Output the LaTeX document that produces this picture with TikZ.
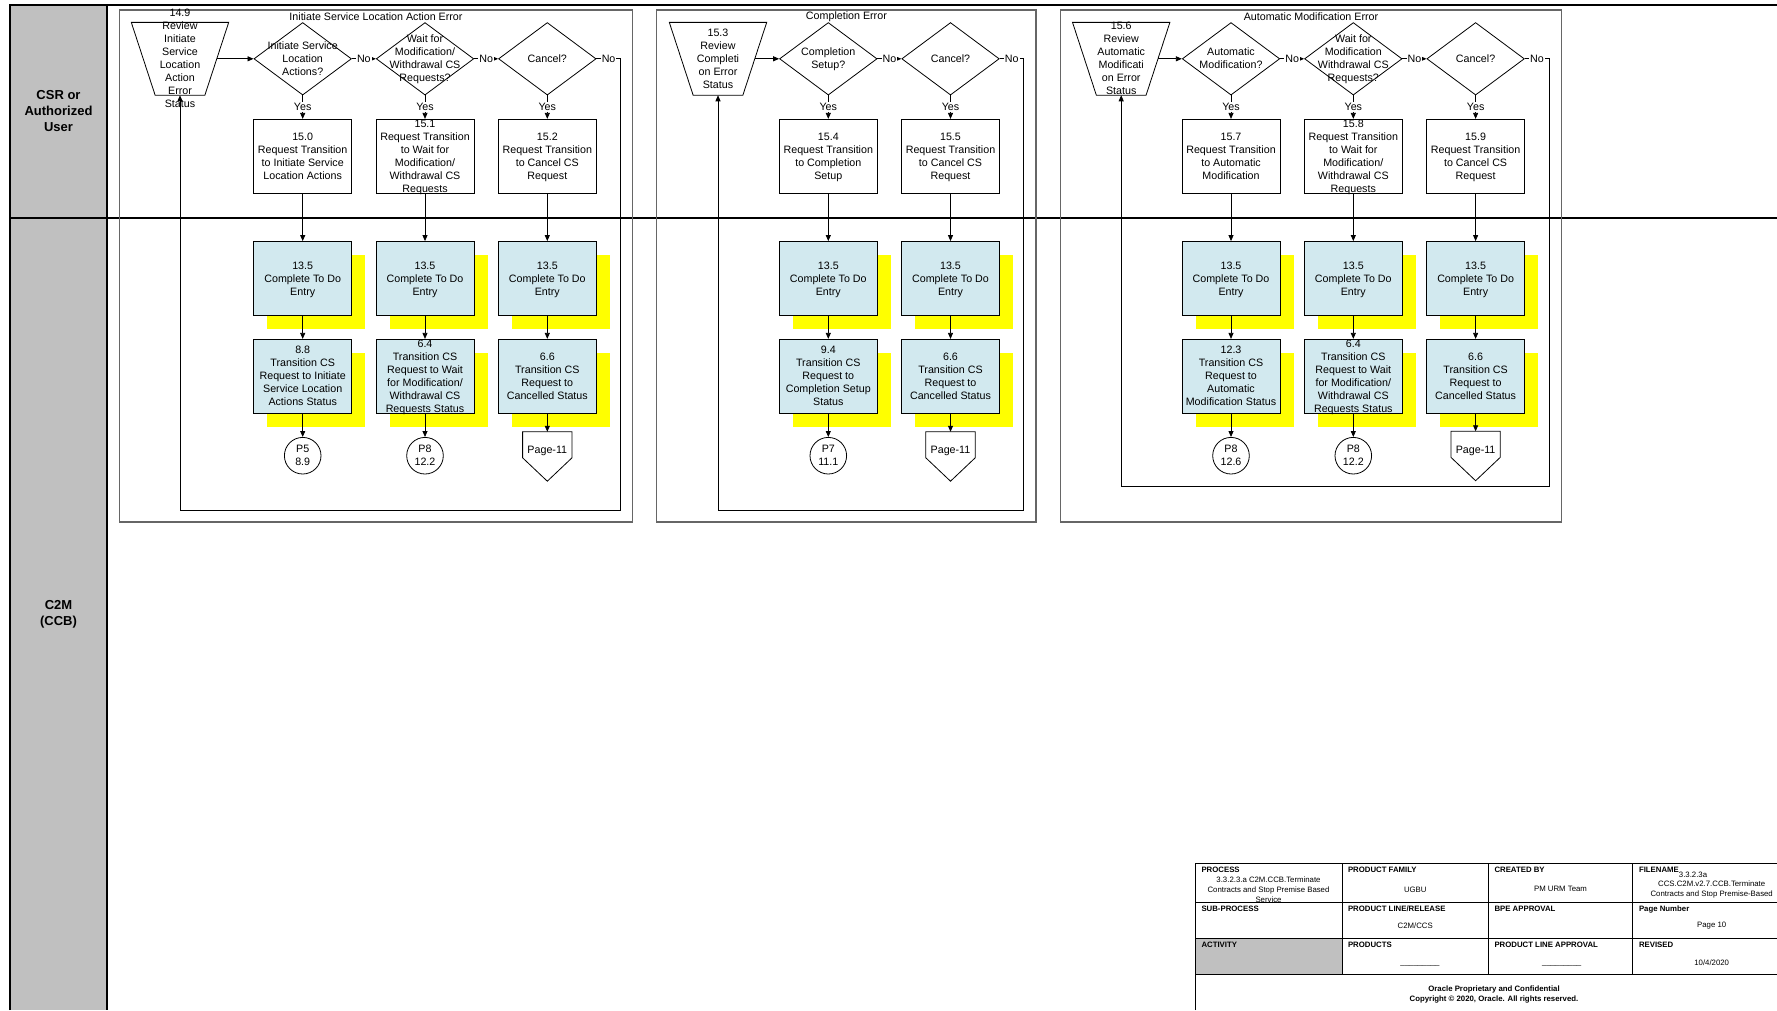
\documentclass[tikz,border=0pt]{standalone}
\usepackage{fontspec}
\setmainfont{Liberation Sans}
\usetikzlibrary{shapes.geometric,arrows.meta,shadows}
\definecolor{lanegray}{RGB}{192,192,192}
\definecolor{todoblue}{RGB}{210,233,239}
\definecolor{shadowyellow}{RGB}{255,255,0}
\newcommand{\boxtext}[1]{\smash{\raisebox{-3.8pt}{\begin{tabular}{@{}c@{}}#1\end{tabular}}}}

\begin{document}
\begin{tikzpicture}[x=1pt,y=-1pt,
    every node/.style={font=\fontsize{10.7}{13}\selectfont,inner sep=0pt},
    grp/.style={draw=black!60,line width=1.3pt},
    wire/.style={line width=0.8pt},
    req/.style={draw,line width=0.8pt,fill=white,minimum width=98pt,minimum height=74pt},
    todo/.style={req,fill=todoblue,drop shadow={shadow xshift=13.5pt,shadow yshift=-13.5pt,fill=shadowyellow,draw=none,opacity=1}},
    dec/.style={diamond,draw,line width=0.8pt,minimum width=97.5pt,minimum height=72.5pt},
    trap/.style={minimum width=97pt,minimum height=72.5pt},
    onpage/.style={circle,draw,line width=0.8pt,fill=white,minimum size=36.6pt},
    offpage/.style={minimum width=49pt,minimum height=49pt},
    flow/.style={line width=0.8pt,-{Triangle[length=6pt,width=5pt]}},
    lbl/.style={fill=white,inner sep=1pt},
    lanename/.style={font=\fontsize{13}{16}\selectfont\bfseries,align=center}]

    \useasboundingbox (0,0) rectangle (1777,1010);

    % swim lanes
    \begin{scope}[line width=1.3pt]
    \fill[lanegray] (10,5) rectangle (107,1010);
    \draw (10,1010) -- (10,5) -- (1777,5);
    \draw (107,5) -- (107,1010);
    \draw (10,218) -- (1777,218);
    \end{scope}
    \node[lanename] (csr) at (58.5,111.5) {CSR or\\Authorized\\User};
    \node[lanename] (c2m) at (58.5,614.7) {C2M\\(CCB)};

    % initiate service location action error
    \draw[grp] (119.4,10) rectangle (632.4,522);
    \node (g1title) at (376,16.5) {Initiate Service Location Action Error};
    \node[trap] (t1) at (180,58.8) {\boxtext{14.9\\Review\\Initiate\\Service\\Location\\Action\\Error\\Status}};
    \draw[wire] (t1.north west) -- (t1.north east) -- ([xshift=-23.85pt]t1.south east) -- ([xshift=23.85pt]t1.south west) -- cycle;
    \node[dec] (d11) at (302.7,58.8) {\boxtext{Initiate Service\\Location\\Actions?}};
    \node[dec] (d12) at (425,58.8) {\boxtext{Wait for\\Modification/\\Withdrawal CS\\Requests?}};
    \node[dec] (d13) at (547.3,58.8) {\boxtext{Cancel?}};
    \node[req] (r11) at (302.7,156.3) {\boxtext{15.0\\Request Transition\\to Initiate Service\\Location Actions}};
    \node[req] (r12) at (425,156.3) {\boxtext{15.1\\Request Transition\\to Wait for\\Modification/\\Withdrawal CS\\Requests}};
    \node[req] (r13) at (547.3,156.3) {\boxtext{15.2\\Request Transition\\to Cancel CS\\Request}};
    \node[todo] (a11) at (302.7,278.5) {\boxtext{13.5\\Complete To Do\\Entry}};
    \node[todo] (a12) at (425,278.5) {\boxtext{13.5\\Complete To Do\\Entry}};
    \node[todo] (a13) at (547.3,278.5) {\boxtext{13.5\\Complete To Do\\Entry}};
    \node[todo] (b11) at (302.7,376.3) {\boxtext{8.8\\Transition CS\\Request to Initiate\\Service Location\\Actions Status}};
    \node[todo] (b12) at (425,376.3) {\boxtext{6.4\\Transition CS\\Request to Wait\\for Modification/\\Withdrawal CS\\Requests Status}};
    \node[todo] (b13) at (547.3,376.3) {\boxtext{6.6\\Transition CS\\Request to\\Cancelled Status}};
    \node[onpage] (e11) at (302.7,455.7) {\boxtext{P5\\8.9}};
    \node[onpage] (e12) at (425,455.7) {\boxtext{P8\\12.2}};
    \node[offpage] (e13) at (547.3,456.5) {};
    \node (e13txt) at (547.3,451) {Page-11};
    \coordinate (l1) at (180,510);

    % completion error
    \draw[grp] (656.7,10) rectangle (1036,522);
    \node (g2title) at (846.4,16.5) {Completion Error};
    \node[trap] (t2) at (718,58.8) {\boxtext{15.3\\Review\\Completi\\on Error\\Status}};
    \draw[wire] (t2.north west) -- (t2.north east) -- ([xshift=-23.85pt]t2.south east) -- ([xshift=23.85pt]t2.south west) -- cycle;
    \node[dec] (d21) at (828.3,58.8) {\boxtext{Completion\\Setup?}};
    \node[dec] (d22) at (950.5,58.8) {\boxtext{Cancel?}};
    \node[req] (r21) at (828.3,156.3) {\boxtext{15.4\\Request Transition\\to Completion\\Setup}};
    \node[req] (r22) at (950.5,156.3) {\boxtext{15.5\\Request Transition\\to Cancel CS\\Request}};
    \node[todo] (a21) at (828.3,278.5) {\boxtext{13.5\\Complete To Do\\Entry}};
    \node[todo] (a22) at (950.5,278.5) {\boxtext{13.5\\Complete To Do\\Entry}};
    \node[todo] (b21) at (828.3,376.3) {\boxtext{9.4\\Transition CS\\Request to\\Completion Setup\\Status}};
    \node[todo] (b22) at (950.5,376.3) {\boxtext{6.6\\Transition CS\\Request to\\Cancelled Status}};
    \node[onpage] (e21) at (828.3,455.7) {\boxtext{P7\\11.1}};
    \node[offpage] (e22) at (950.5,456.5) {};
    \node (e22txt) at (950.5,451) {Page-11};
    \coordinate (l2) at (718,510);

    % automatic modification error
    \draw[grp] (1060.7,10) rectangle (1561.4,522);
    \node (g3title) at (1311,16.5) {Automatic Modification Error};
    \node[trap] (t3) at (1121.2,58.8) {\boxtext{15.6\\Review\\Automatic\\Modificati\\on Error\\Status}};
    \draw[wire] (t3.north west) -- (t3.north east) -- ([xshift=-23.85pt]t3.south east) -- ([xshift=23.85pt]t3.south west) -- cycle;
    \node[dec] (d31) at (1231,58.8) {\boxtext{Automatic\\Modification?}};
    \node[dec] (d32) at (1353.3,58.8) {\boxtext{Wait for\\Modification\\Withdrawal CS\\Requests?}};
    \node[dec] (d33) at (1475.6,58.8) {\boxtext{Cancel?}};
    \node[req] (r31) at (1231,156.3) {\boxtext{15.7\\Request Transition\\to Automatic\\Modification}};
    \node[req] (r32) at (1353.3,156.3) {\boxtext{15.8\\Request Transition\\to Wait for\\Modification/\\Withdrawal CS\\Requests}};
    \node[req] (r33) at (1475.6,156.3) {\boxtext{15.9\\Request Transition\\to Cancel CS\\Request}};
    \node[todo] (a31) at (1231,278.5) {\boxtext{13.5\\Complete To Do\\Entry}};
    \node[todo] (a32) at (1353.3,278.5) {\boxtext{13.5\\Complete To Do\\Entry}};
    \node[todo] (a33) at (1475.6,278.5) {\boxtext{13.5\\Complete To Do\\Entry}};
    \node[todo] (b31) at (1231,376.3) {\boxtext{12.3\\Transition CS\\Request to\\Automatic\\Modification Status}};
    \node[todo] (b32) at (1353.3,376.3) {\boxtext{6.4\\Transition CS\\Request to Wait\\for Modification/\\Withdrawal CS\\Requests Status}};
    \node[todo] (b33) at (1475.6,376.3) {\boxtext{6.6\\Transition CS\\Request to\\Cancelled Status}};
    \node[onpage] (e31) at (1231,455.7) {\boxtext{P8\\12.6}};
    \node[onpage] (e32) at (1353.3,455.7) {\boxtext{P8\\12.2}};
    \node[offpage] (e33) at (1475.6,456) {};
    \node (e33txt) at (1475.6,450.5) {Page-11};
    \coordinate (l3) at (1121.2,486);

    % off page connectors
    \foreach \e in {e13,e22,e33}
        \draw[wire] (\e.north west) -- (\e.north east) -- ++(0,26) -- (\e.south) -- ([yshift=-26pt]\e.north west) -- cycle;

    % decisions
    \draw[flow] ([xshift=-11.9pt]t1.east) -- (d11);
    \draw[flow] (d11) -- node[lbl]{No} (d12);
    \draw[flow] (d12) -- node[lbl]{No} (d13);
    \draw[flow] (d13.east) -- node[lbl]{No} ++(24.3,0) |- (l1) -- (t1.south);
    \draw[flow] ([xshift=-11.9pt]t2.east) -- (d21);
    \draw[flow] (d21) -- node[lbl]{No} (d22);
    \draw[flow] (d22.east) -- node[lbl]{No} ++(24.05,0) |- (l2) -- (t2.south);
    \draw[flow] ([xshift=-11.9pt]t3.east) -- (d31);
    \draw[flow] (d31) -- node[lbl]{No} (d32);
    \draw[flow] (d32) -- node[lbl]{No} (d33);
    \draw[flow] (d33.east) -- node[lbl]{No} ++(24.55,0) |- (l3) -- (t3.south);

    \foreach \c in {11,12,13,21,22,31,32,33} {
        \draw[flow] (d\c) -- node[lbl]{Yes} (r\c);
        \draw[flow] (r\c) -- (a\c);
        \draw[flow] (a\c) -- (b\c);
        \draw[flow] (b\c) -- (e\c);
    }

    % title block
    \begin{scope}[line width=1pt,every node/.style={font=\fontsize{7.8}{10}\selectfont,inner sep=0pt},
        tblabel/.style={font=\fontsize{7.8}{10}\selectfont\bfseries,anchor=west}]
    \fill[lanegray] (1195,938) rectangle (1342,974.5);
    \begin{scope}
    \clip (1195,863) rectangle (1342,902);
    \node[align=center,anchor=north] (procval) at (1268.5,876.5) {3.3.2.3.a C2M.CCB.Terminate\\Contracts and Stop Premise Based\\Service};
    \end{scope}
    \draw (1195,1010) -- (1195,863) -- (1777,863);
    \draw (1195,902) -- (1777,902);
    \draw (1195,938) -- (1777,938);
    \draw (1195,974.5) -- (1777,974.5);
    \draw (1342,863) -- (1342,974.5);
    \draw (1488.5,863) -- (1488.5,974.5);
    \draw (1632.5,863) -- (1632.5,974.5);

    \node[tblabel] (process) at (1201,870) {PROCESS};
    \node[tblabel] (family) at (1347.5,870) {PRODUCT FAMILY};
    \node[tblabel] (created) at (1494,870) {CREATED BY};
    \node[tblabel] (filename) at (1638.5,870) {FILENAME};
    \node[tblabel] (subproc) at (1201,909) {SUB-PROCESS};
    \node[tblabel] (release) at (1347.5,909) {PRODUCT LINE/RELEASE};
    \node[tblabel] (bpe) at (1494,909) {BPE APPROVAL};
    \node[tblabel] (pagenum) at (1638.5,909) {Page Number};
    \node[tblabel] (activity) at (1201,945) {ACTIVITY};
    \node[tblabel] (products) at (1347.5,945) {PRODUCTS};
    \node[tblabel] (plapproval) at (1494,945) {PRODUCT LINE APPROVAL};
    \node[tblabel] (revised) at (1638.5,945) {REVISED};

    \node (ugbu) at (1415.25,889.3) {UGBU};
    \node (team) at (1560.5,889.3) {PM URM Team};
    \node (fileno) at (1693,875) {3.3.2.3a};
    \node[align=center] (fileval) at (1711.7,889) {CCS.C2M.v2.7.CCB.Terminate\\Contracts and Stop Premise-Based};
    \node (relval) at (1415.25,926) {C2M/CCS};
    \node (pageval) at (1711.7,926) {Page 10};
    \node[anchor=base] (prodval) at (1420,964) {\_\_\_\_\_\_\_\_\_};
    \node[anchor=base] (plaval) at (1561.7,964) {\_\_\_\_\_\_\_\_\_};
    \node (revval) at (1711.7,962.7) {10/4/2020};
    \node[align=center,font=\fontsize{7.8}{10}\selectfont\bfseries] (copy) at (1494,994) {Oracle Proprietary and Confidential\\Copyright \textcopyright{} 2020, Oracle. All rights reserved.};
    \end{scope}
\end{tikzpicture}
\end{document}
